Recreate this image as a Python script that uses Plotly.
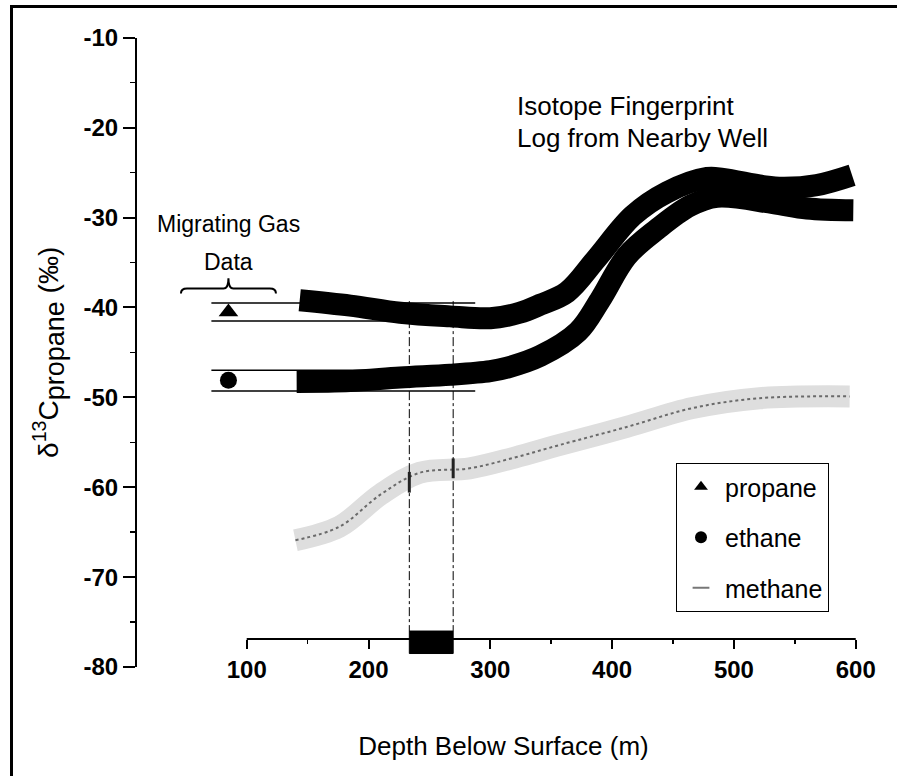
import plotly.graph_objects as go

# Isotope fingerprint log from the nearby well: depth (m) vs delta 13C (per mil)
propane_depth = [143.5, 185, 226, 267, 300, 324, 341, 363, 387, 417, 445, 478, 491, 524, 540, 568, 597]
propane_d13c = [-39.2, -39.8, -40.6, -41.0, -41.2, -40.6, -39.7, -38.3, -34.6, -29.8, -27.2,
                -25.6, -25.7, -26.5, -26.7, -26.4, -25.3]

ethane_depth = [141, 185, 226, 267, 300, 314, 341, 372, 390, 412, 437, 464, 486, 532, 560, 598]
ethane_d13c = [-48.3, -48.2, -47.8, -47.5, -47.1, -46.7, -45.4, -42.7, -39.2, -34.3, -31.3,
               -28.7, -27.7, -28.4, -29.0, -29.2]

methane_depth = [140, 176, 210, 242, 283, 320, 357, 412, 466, 521, 595]
methane_d13c = [-65.9, -64.4, -60.8, -58.4, -57.9, -56.7, -55.3, -53.3, -51.2, -50.1, -49.9]

# Migrating gas samples (plotted off to the left of the log)
gas_x = 85
gas_propane = -40.5
gas_ethane = -48.1
gas_propane_range = [-39.5, -41.5]
gas_ethane_range = [-47.0, -49.3]
gas_range_depth = [71, 287.6]

# Depth interval where the migrating gas matches the log
match_depth = [233.5, 269.5]
match_top = -39.3
methane_match_left = [-58.3, -60.6]
methane_match_right = [-56.8, -59.0]

# Axis ticks
depth_ticks = [100, 200, 300, 400, 500, 600]
depth_minor = [150, 250, 350, 450, 550]
d13c_ticks = [-10, -20, -30, -40, -50, -60, -70, -80]

W, H = 897, 776
FONT = "Liberation Sans, Arial, Helvetica, sans-serif"
X_AXIS_PX = 639      # vertical pixel position of the detached depth axis
Y_TOP_PX, Y_BOTTOM_PX = 37.7, 667
Y_RANGE = [-80, -10]
X_LEFT_PX, X_RIGHT_PX = 137, 870
X_RANGE = [9.93, 611.7]
y_unit_px = (Y_BOTTOM_PX - Y_TOP_PX) / (Y_RANGE[1] - Y_RANGE[0])
# value on the delta-13C scale where the detached depth axis sits
axis_level = Y_RANGE[1] - (X_AXIS_PX - Y_TOP_PX) / y_unit_px


def px(x):
    return x / W


def py(y):
    return 1 - y / H


fig = go.Figure()

# ranges of the migrating gas values, carried across to the log
for lo_hi in (gas_propane_range, gas_ethane_range):
    for v in lo_hi:
        fig.add_trace(go.Scatter(x=gas_range_depth, y=[v, v], mode="lines",
                                 line=dict(color="black", width=1.5),
                                 showlegend=False, hoverinfo="skip"))

# methane log: stippled grey band
fig.add_trace(go.Scatter(x=methane_depth, y=methane_d13c, mode="lines",
                         line=dict(color="#dedede", width=22, shape="spline"),
                         showlegend=False, hoverinfo="skip"))
fig.add_trace(go.Scatter(x=methane_depth, y=methane_d13c, mode="lines",
                         line=dict(color="#6a6a6a", width=2, shape="spline", dash="dot"),
                         showlegend=False, hoverinfo="skip"))

# ethane and propane logs: heavy black bands
for xs, ys in ((ethane_depth, ethane_d13c), (propane_depth, propane_d13c)):
    fig.add_trace(go.Scatter(x=xs, y=ys, mode="lines",
                             line=dict(color="black", width=22, shape="spline"),
                             showlegend=False, hoverinfo="skip"))

# dashed guides bounding the matched depth interval
for d in match_depth:
    fig.add_trace(go.Scatter(x=[d, d], y=[match_top, -76.0], mode="lines",
                             line=dict(color="black", width=1, dash="dashdot"),
                             showlegend=False, hoverinfo="skip"))

# methane values of the gas at the matched depths
fig.add_trace(go.Scatter(
    x=[match_depth[0], match_depth[0], None, match_depth[1], match_depth[1]],
    y=methane_match_left + [None] + methane_match_right,
    mode="lines", line=dict(color="#222222", width=3),
    showlegend=False, hoverinfo="skip"))

# detached depth axis: base line from the first to the last tick
fig.add_trace(go.Scatter(x=[depth_ticks[0], depth_ticks[-1]], y=[axis_level, axis_level],
                         mode="lines", line=dict(color="black", width=2),
                         showlegend=False, hoverinfo="skip"))

# migrating gas points (also the legend entries)
fig.add_trace(go.Scatter(x=[gas_x], y=[gas_propane], mode="markers", name="propane",
                         legendgroup="p",
                         marker=dict(symbol="triangle-up", size=17, color="black")))
fig.add_trace(go.Scatter(x=[gas_x], y=[gas_ethane], mode="markers", name="ethane",
                         legendgroup="e",
                         marker=dict(symbol="circle", size=17, color="black")))
fig.add_trace(go.Scatter(x=[None], y=[None], mode="markers", name="methane",
                         legendgroup="m",
                         marker=dict(symbol="line-ew-open", size=10, color="#777777",
                                     line=dict(color="#777777", width=2))))

# brace over the migrating gas data
h = 39.0
yb, ye, yt = -37.9, -38.45, -36.75
brace = (f"M {gas_x - h},{ye} Q {gas_x - h},{yb} {gas_x - h + 5},{yb} "
         f"L {gas_x - 4},{yb} Q {gas_x},{yb} {gas_x},{yt} "
         f"Q {gas_x},{yb} {gas_x + 4},{yb} L {gas_x + h - 5},{yb} "
         f"Q {gas_x + h},{yb} {gas_x + h},{ye}")

shapes = [
    dict(type="path", path=brace, xref="x", yref="y",
         line=dict(color="black", width=2)),
    # matched interval marked on the depth axis
    dict(type="rect", xref="x", yref="y", x0=match_depth[0], x1=match_depth[1],
         y0=-76.0, y1=-78.5, fillcolor="black", line=dict(color="black", width=1)),
    # page frame (top and left edges)
    dict(type="path", xref="paper", yref="paper",
         path=f"M {px(11.5)},0 L {px(11.5)},{py(6.5)} L 1,{py(6.5)}",
         line=dict(color="black", width=3)),
]

tickfont = dict(family=FONT, size=24, color="black", weight="bold")
textfont = dict(family=FONT, size=26, color="black")

fig.update_layout(
    width=W, height=H, autosize=False,
    margin=dict(l=0, r=0, t=0, b=0, autoexpand=False),
    paper_bgcolor="white", plot_bgcolor="white",
    font=dict(family=FONT, color="black"),
    showlegend=True,
    legend=dict(x=px(676), y=py(463), xanchor="left", yanchor="top",
                bordercolor="black", borderwidth=1, bgcolor="white",
                font=dict(family=FONT, size=25, color="black"),
                traceorder="grouped", tracegroupgap=15, itemsizing="constant",
                itemwidth=38),
    # depth axis ticks and labels, placed at the detached axis line
    xaxis=dict(domain=[px(X_LEFT_PX), px(X_RIGHT_PX)], range=X_RANGE,
               anchor="free", position=py(X_AXIS_PX),
               showline=False, ticks="outside", ticklen=9, tickwidth=2,
               tickcolor="black",
               tickvals=depth_ticks, ticktext=[str(v) for v in depth_ticks],
               tickfont=tickfont,
               minor=dict(tickvals=depth_minor, ticks="outside", ticklen=4,
                          tickwidth=1.5, tickcolor="black"),
               showgrid=False, zeroline=False,
               title=dict(text="Depth Below Surface (m)", font=textfont, standoff=55)),
    yaxis=dict(domain=[py(Y_BOTTOM_PX), py(Y_TOP_PX)], range=Y_RANGE, anchor="x",
               showline=True, linecolor="black", linewidth=2,
               ticks="outside", ticklen=12, tickwidth=2, tickcolor="black",
               tickvals=d13c_ticks, ticktext=[f"-{abs(v)}" for v in d13c_ticks],
               tickfont=tickfont,
               minor=dict(dtick=5, ticks="outside", ticklen=5,
                          tickwidth=1.5, tickcolor="black"),
               showgrid=False, zeroline=False,
               title=dict(text="δ<sup>13</sup>C<sub><span style=\"font-size:27px\">propane</span></sub> (‰)",
                          font=dict(family=FONT, size=28, color="black"), standoff=17)),
    shapes=shapes,
    annotations=[
        dict(text="Migrating Gas", x=px(228), y=py(224), xref="paper", yref="paper",
             showarrow=False, xanchor="center", yanchor="middle",
             font=dict(family=FONT, size=23, color="black")),
        dict(text="Data", x=px(228), y=py(262), xref="paper", yref="paper",
             showarrow=False, xanchor="center", yanchor="middle",
             font=dict(family=FONT, size=23, color="black")),
        dict(text="Isotope Fingerprint", x=px(515), y=py(106),
             xref="paper", yref="paper", showarrow=False, xanchor="left",
             yanchor="middle", font=textfont),
        dict(text="Log from Nearby Well", x=px(515), y=py(137.5),
             xref="paper", yref="paper", showarrow=False, xanchor="left",
             yanchor="middle", font=textfont),
    ],
)

fig.write_html("out.html", config={"staticPlot": True})
